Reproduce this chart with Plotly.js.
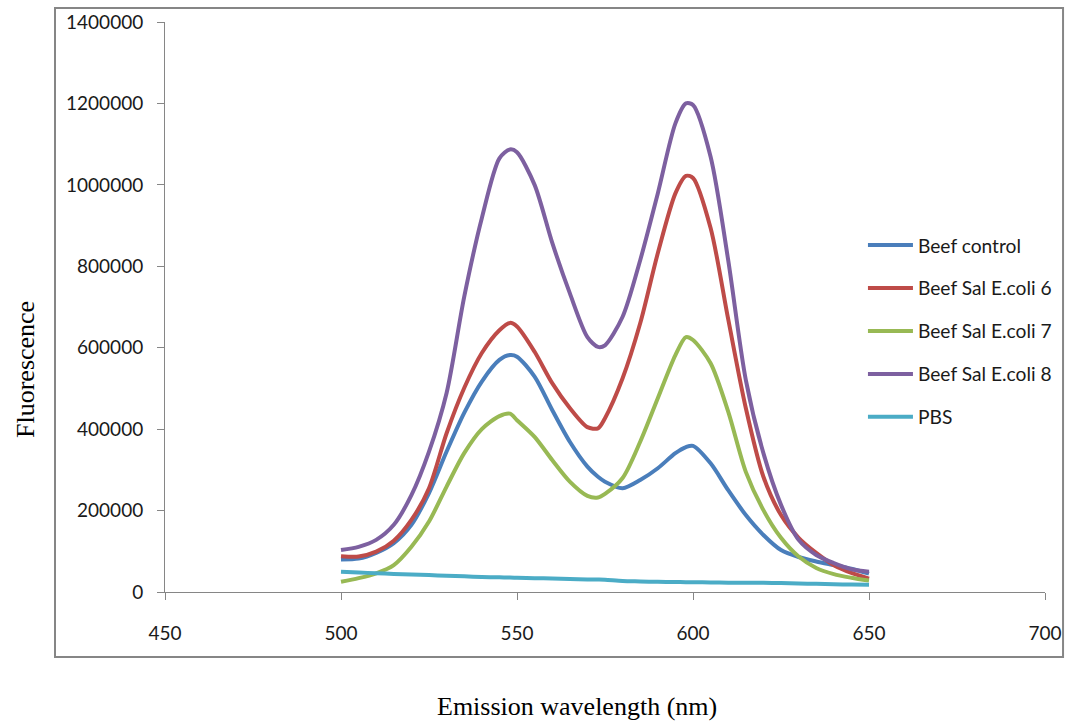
<!DOCTYPE html>
<html>
<head>
<meta charset="utf-8">
<script src="https://cdn.plot.ly/plotly-3.0.1.min.js"></script>
<style>
  html, body { margin: 0; padding: 0; background: #ffffff; }
  #chart { width: 1070px; height: 724px; }
</style>
</head>
<body>
<div id="chart"></div>
<script>
// Emission wavelength (nm)
const wavelength = [500, 505, 510, 515, 520, 525, 530, 535, 540, 545, 548, 550, 555, 560, 565, 570, 573, 575,
                    580, 585, 590, 595, 598, 600, 605, 610, 615, 620, 625, 630, 635, 640, 645, 650];

// Fluorescence intensity for each sample
const beefControl = [80000, 82000, 96000, 120000, 165000, 243000, 345000, 440000, 517000, 570000, 582000, 578000,
                     529000, 447000, 369000, 308000, 283000, 271000, 255000, 275000, 304000, 341000, 356000, 359000,
                     316000, 250000, 189000, 140000, 103000, 86000, 75000, 66000, 57000, 45000];
const beefSalEcoli6 = [88000, 87000, 99000, 126000, 177000, 255000, 390000, 501000, 587000, 643000, 661000, 652000,
                       590000, 513000, 452000, 405000, 402000, 427000, 525000, 660000, 832000, 979000, 1022000, 1017000,
                       894000, 670000, 452000, 283000, 189000, 133000, 96000, 66000, 47000, 33000];
const beefSalEcoli7 = [25000, 34000, 46000, 66000, 111000, 173000, 259000, 341000, 400000, 432000, 438000, 422000,
                       381000, 324000, 271000, 236000, 232000, 241000, 280000, 369000, 476000, 582000, 626000, 619000,
                       562000, 443000, 295000, 201000, 133000, 87000, 59000, 44000, 35000, 28000];
const beefSalEcoli8 = [103000, 111000, 128000, 165000, 238000, 345000, 489000, 725000, 918000, 1065000, 1087000, 1080000,
                       1000000, 858000, 734000, 626000, 602000, 606000, 676000, 815000, 979000, 1151000, 1200000, 1196000,
                       1069000, 815000, 521000, 341000, 214000, 128000, 91000, 71000, 56000, 50000];
const pbs = [50000, 48000, 46000, 44500, 43000, 41500, 40000, 38500, 37000, 36000, 35500, 35000,
             34000, 33000, 32000, 31000, 30500, 30000, 27000, 26000, 25000, 24500, 24200, 24000,
             23500, 23000, 23000, 22500, 22000, 21000, 20000, 19000, 18500, 18000];

const seriesNames = ["Beef control", "Beef Sal E.coli 6", "Beef Sal E.coli 7", "Beef Sal E.coli 8", "PBS"];
const seriesValues = [beefControl, beefSalEcoli6, beefSalEcoli7, beefSalEcoli8, pbs];
const seriesColors = ["#4A7EBB", "#BE4B48", "#98B954", "#7D60A0", "#4BACC6"];

// X and Y tick values
const xTicks = [450, 500, 550, 600, 650, 700];
const yTicks = [0, 200000, 400000, 600000, 800000, 1000000, 1200000, 1400000];

const traces = seriesNames.map((name, i) => ({
  type: "scatter",
  mode: "lines",
  name: name,
  x: wavelength,
  y: seriesValues[i],
  legendgroup: "g" + i,
  line: { color: seriesColors[i], width: 4, shape: "spline", smoothing: 0.8 }
}));

const axisGray = "#868686";
const tickFont = { family: "Lato, 'Open Sans', sans-serif", size: 19, color: "#1a1a1a" };

const layout = {
  width: 1070,
  height: 724,
  margin: { l: 165, r: 25, t: 22, b: 132, autoexpand: false },
  paper_bgcolor: "#ffffff",
  plot_bgcolor: "#ffffff",
  showlegend: true,
  legend: {
    xref: "container", yref: "container",
    x: 0.8065, y: 0.6878, xanchor: "left", yanchor: "top",
    font: { family: "Lato, 'Open Sans', sans-serif", size: 19.2, color: "#1a1a1a" },
    tracegroupgap: 15,
    itemwidth: 45,
    bgcolor: "rgba(0,0,0,0)"
  },
  xaxis: {
    range: [450, 700],
    tickvals: xTicks,
    ticks: "outside", ticklen: 7, tickwidth: 1, tickcolor: axisGray,
    ticklabelstandoff: 17,
    showline: true, linecolor: axisGray, linewidth: 1,
    showgrid: false, zeroline: false,
    tickfont: tickFont
  },
  yaxis: {
    range: [0, 1400000],
    tickvals: yTicks,
    tickformat: "d",
    ticks: "outside", ticklen: 7, tickwidth: 1, tickcolor: axisGray,
    ticklabelstandoff: 10,
    showline: true, linecolor: axisGray, linewidth: 1,
    showgrid: false, zeroline: false,
    tickfont: tickFont
  },
  shapes: [{
    type: "rect", xref: "paper", yref: "paper",
    x0: -0.125, x1: 1.0205, y0: -0.114, y1: 1.0246,
    line: { color: axisGray, width: 2 },
    fillcolor: "rgba(0,0,0,0)"
  }],
  annotations: [
    {
      text: "Emission wavelength (nm)", xref: "paper", yref: "paper",
      x: (577 - 165) / 880, y: (592 - 706) / 570, xanchor: "center", yanchor: "middle",
      showarrow: false,
      font: { family: "'Liberation Serif', 'Times New Roman', serif", size: 26, color: "#000000" }
    },
    {
      text: "Fluorescence", xref: "paper", yref: "paper",
      x: (25 - 165) / 880, y: (592 - 370) / 570, xanchor: "center", yanchor: "middle",
      textangle: -90, showarrow: false,
      font: { family: "'Liberation Serif', 'Times New Roman', serif", size: 26, color: "#000000" }
    }
  ]
};

Plotly.newPlot("chart", traces, layout, { displayModeBar: false, staticPlot: true });
</script>
</body>
</html>
